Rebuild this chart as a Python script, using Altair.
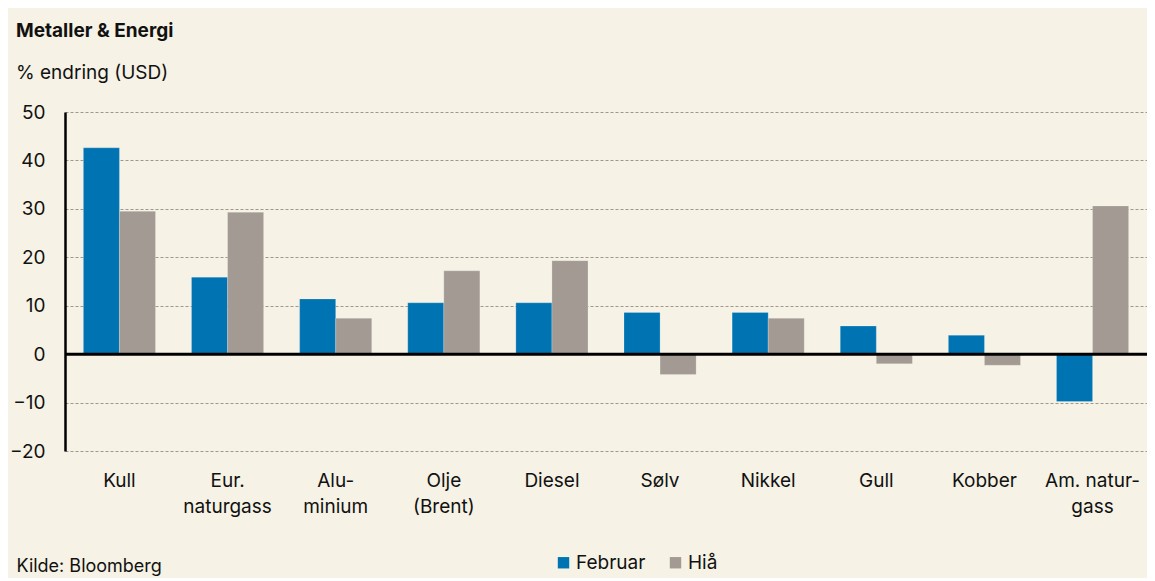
import altair as alt
import pandas as pd

categories = ["Kull", "Eur.|naturgass", "Alu-|minium", "Olje|(Brent)", "Diesel",
              "Sølv", "Nikkel", "Gull", "Kobber", "Am. natur-|gass"]
februar = [42.6, 15.9, 11.4, 10.6, 10.6, 8.6, 8.6, 5.8, 3.9, -9.8]
hia = [29.5, 29.3, 7.4, 17.2, 19.3, -4.2, 7.4, -2.0, -2.3, 30.6]
series = ["Februar", "Hiå"]
colors = ["#0074B2", "#A39A94"]
y_ticks = [-20, -10, 0, 10, 20, 30, 40, 50]

rows = []
for c, f, h in zip(categories, februar, hia):
    rows.append({"kat": c, "serie": series[0], "verdi": f})
    rows.append({"kat": c, "serie": series[1], "verdi": h})
df = pd.DataFrame(rows)

FONT = "Inter"
BG = "#F6F2E5"

bars = alt.Chart(df).mark_bar(stroke="#FFFFFF", strokeOpacity=0.25, strokeWidth=0.8).encode(
    x=alt.X("kat:N", sort=categories,
            scale=alt.Scale(paddingInner=0.333, paddingOuter=0.17),
            axis=alt.Axis(title="Kilde: Bloomberg", domain=False, ticks=False,
                          labelAngle=0, labelFontSize=19, labelFont=FONT, labelColor="#111111",
                          labelPadding=20, labelLineHeight=26,
                          labelExpr="split(datum.label, '|')",
                          titleX=-49, titleY=115, titleAlign="left", titleAnchor="start",
                          titleBaseline="middle", titleFont=FONT, titleFontSize=18,
                          titleFontWeight="normal", titleColor="#111111")),
    xOffset=alt.XOffset("serie:N", sort=series, scale=alt.Scale(paddingInner=0, paddingOuter=0)),
    y=alt.Y("verdi:Q", scale=alt.Scale(domain=[-20, 50], nice=False, zero=False),
            axis=alt.Axis(title=None, values=y_ticks, ticks=False, domain=True,
                          domainColor="#000000", domainWidth=2.5,
                          grid=True, gridDash=[3, 2], gridColor="#9E988F", gridWidth=1,
                          labelFontSize=19, labelFont=FONT, labelColor="#111111",
                          labelPadding=20)),
    color=alt.Color("serie:N", sort=series,
                    scale=alt.Scale(domain=series, range=colors),
                    legend=alt.Legend(title=None, orient="none", legendX=489, legendY=441,
                                      direction="horizontal", symbolType="square",
                                      symbolSize=130, symbolStrokeWidth=0,
                                      labelFontSize=19, labelFont=FONT, labelColor="#111111",
                                      labelOffset=3, columnPadding=20)),
)

zero = alt.Chart(pd.DataFrame({"y": [0]})).mark_rule(color="#000000", strokeWidth=3).encode(
    y="y:Q"
)

chart = alt.layer(bars, zero).properties(
    width=1082,
    height=339,
    autosize=alt.AutoSizeParams(type="none"),
    padding={"left": 57, "top": 104, "right": 0, "bottom": 127},
    background=BG,
    title=alt.TitleParams(
        text="Metaller & Energi",
        subtitle="% endring (USD)",
        anchor="start", frame="group", orient="top",
        dx=-49, offset=20,
        font=FONT, fontSize=19, fontWeight="bold", color="#111111",
        subtitleFont=FONT, subtitleFontSize=19, subtitleColor="#111111",
        subtitlePadding=23,
    ),
).configure_view(stroke=None, fill=None)

chart.save("out.html", embed_options={"renderer": "svg", "actions": False})
